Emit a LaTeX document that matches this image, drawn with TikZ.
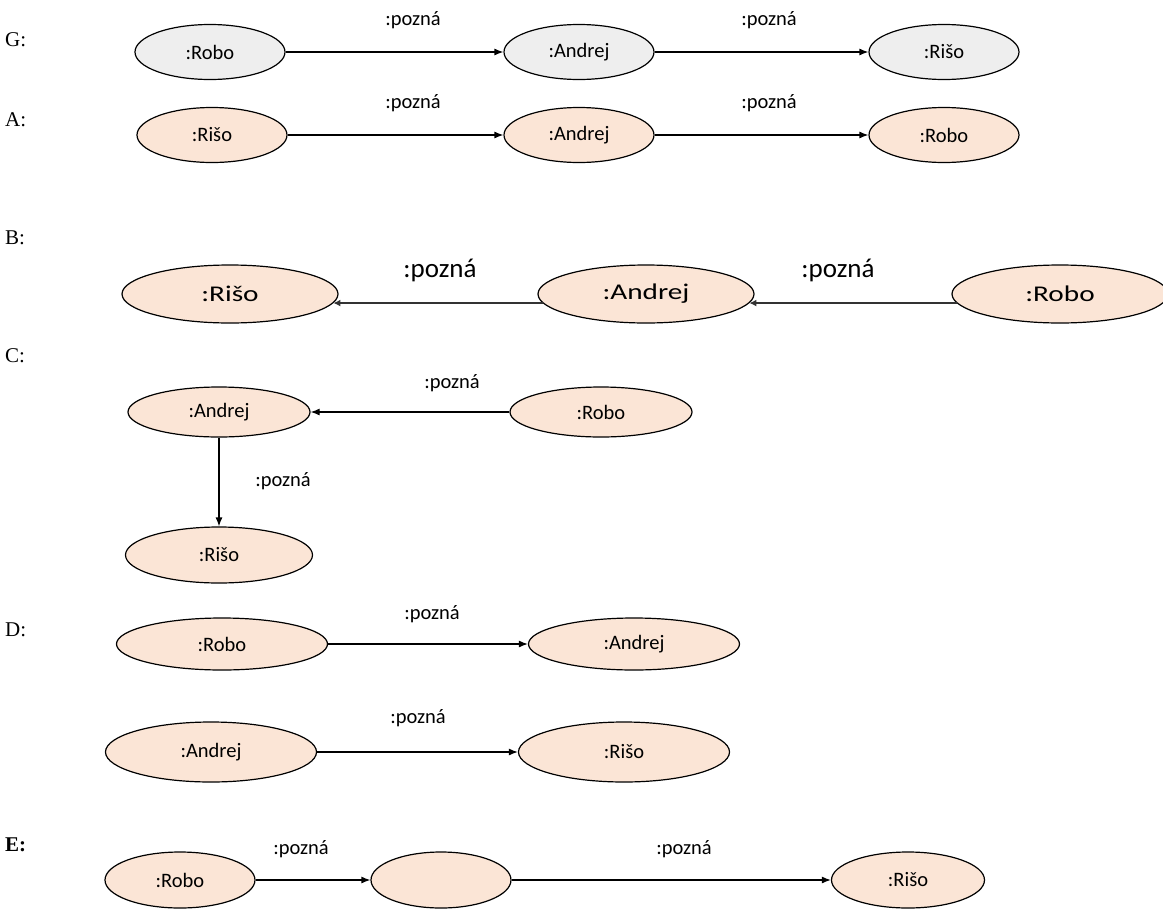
\documentclass[tikz,border=0pt]{standalone}
\usepackage{fontspec}
\setmainfont{Liberation Serif}
\newfontfamily\calfont{Carlito}
\newfontfamily\calwide[FakeStretch=1.3]{Carlito}
\usetikzlibrary{shapes.geometric,arrows.meta}
\definecolor{objgray}{HTML}{EEEEEE}
\definecolor{objpeach}{HTML}{FBE5D6}
\definecolor{linkgray}{HTML}{333333}
\tikzset{
  obj/.style={ellipse, draw=black, line width=1.2pt, inner sep=0pt,
    minimum width=150pt, minimum height=55pt,
    font=\calfont\fontsize{20.5}{24}\selectfont},
  gobj/.style={obj, fill=objgray},
  pobj/.style={obj, fill=objpeach},
  rel/.style={-{Latex[length=9pt,width=7pt]}, line width=1.2pt},
  rlbl/.style={font=\calfont\fontsize{20.5}{24}\selectfont, inner sep=0pt},
  biglbl/.style={font=\calfont\fontsize{27}{30}\selectfont, inner sep=0pt},
  tag/.style={font=\fontsize{21}{25}\selectfont, anchor=west, inner sep=0pt},
}
\begin{document}
\begin{tikzpicture}[x=1pt, y=-1pt]
\useasboundingbox (0,0) rectangle (1163,911);

% G
\node[tag] (tG) at (5,40) {G:};
\node[gobj] (gRobo)   at (210,52) {:Robo};
\node[gobj] (gAndrej) at (579,52) {:Andrej};
\node[gobj] (gRiso)   at (944,52) {:Rišo};
\draw[rel] (gRobo) -- (gAndrej);
\draw[rel] (gAndrej) -- (gRiso);
\node[rlbl] (gl1) at (413,20) {:pozná};
\node[rlbl] (gl2) at (769,20) {:pozná};

% A
\node[tag] (tA) at (5,120) {A:};
\node[pobj] (aRiso)   at (212,135) {:Rišo};
\node[pobj] (aAndrej) at (579,135) {:Andrej};
\node[pobj] (aRobo)   at (944,135) {:Robo};
\draw[rel] (aRiso) -- (aAndrej);
\draw[rel] (aAndrej) -- (aRobo);
\node[rlbl] (al1) at (413,103) {:pozná};
\node[rlbl] (al2) at (769,103) {:pozná};

% B: wider, stretched lettering and a lowered connector
\tikzset{bobj/.style={pobj, minimum width=216pt, minimum height=58pt,
  font=\calwide\fontsize{22.5}{26}\selectfont}}
\tikzset{brel/.style={-{Latex[length=7pt,width=7pt]}, line width=2pt, draw=linkgray}}
\node[tag] (tB) at (5,238) {B:};
\node[bobj] (bRiso)   at (230,294) {:Rišo};
\node[bobj] (bAndrej) at (646,294) {:Andrej};
\node[bobj] (bRobo)   at (1060,294) {:Robo};
\draw[brel] (bAndrej.185.8) -- (bRiso.-5.8);
\draw[brel] (bRobo.185.8) -- (bAndrej.-5.8);
\node[biglbl] (bl1) at (440,270) {:pozná};
\node[biglbl] (bl2) at (838,270) {:pozná};

% C
\tikzset{cobj/.style={pobj, minimum width=182pt, minimum height=50pt}}
\node[tag] (tC) at (5,356) {C:};
\node[cobj] (cAndrej) at (219,412) {:Andrej};
\node[cobj] (cRobo)   at (601,412) {:Robo};
\node[cobj, minimum width=187pt, minimum height=56pt] (cRiso) at (219,555) {:Rišo};
\draw[rel] (cRobo) -- (cAndrej);
\draw[rel] (cAndrej) -- (cRiso);
\node[rlbl] (cl1) at (452,383) {:pozná};
\node[rlbl] (cl2) at (283,481) {:pozná};

% D
\tikzset{dobj/.style={pobj, minimum width=211pt, minimum height=52pt}}
\node[tag] (tD) at (5,630) {D:};
\node[dobj] (dRobo)   at (222,644) {:Robo};
\node[dobj] (dAndrej) at (634,644) {:Andrej};
\draw[rel] (dRobo) -- (dAndrej);
\node[rlbl] (dl1) at (432,614) {:pozná};
\node[dobj, minimum height=60pt] (dAndrej2) at (211,752) {:Andrej};
\node[dobj, minimum height=60pt] (dRiso2)   at (624,752) {:Rišo};
\draw[rel] (dAndrej2) -- (dRiso2);
\node[rlbl] (dl2) at (418,718) {:pozná};

% E
\node[tag, font=\bfseries\fontsize{21}{25}\selectfont] (tE) at (5,845) {E:};
\node[pobj, minimum height=56pt] (eRobo) at (180,880) {:Robo};
\node[pobj, minimum width=140pt, minimum height=56pt] (eBlank) at (441,880) {};
\node[pobj, minimum width=153pt, minimum height=56pt] (eRiso) at (908,880) {:Rišo};
\draw[rel] (eRobo) -- (eBlank);
\draw[rel] (eBlank) -- (eRiso);
\node[rlbl] (el1) at (301,849) {:pozná};
\node[rlbl] (el2) at (684,849) {:pozná};
\end{tikzpicture}
\end{document}
